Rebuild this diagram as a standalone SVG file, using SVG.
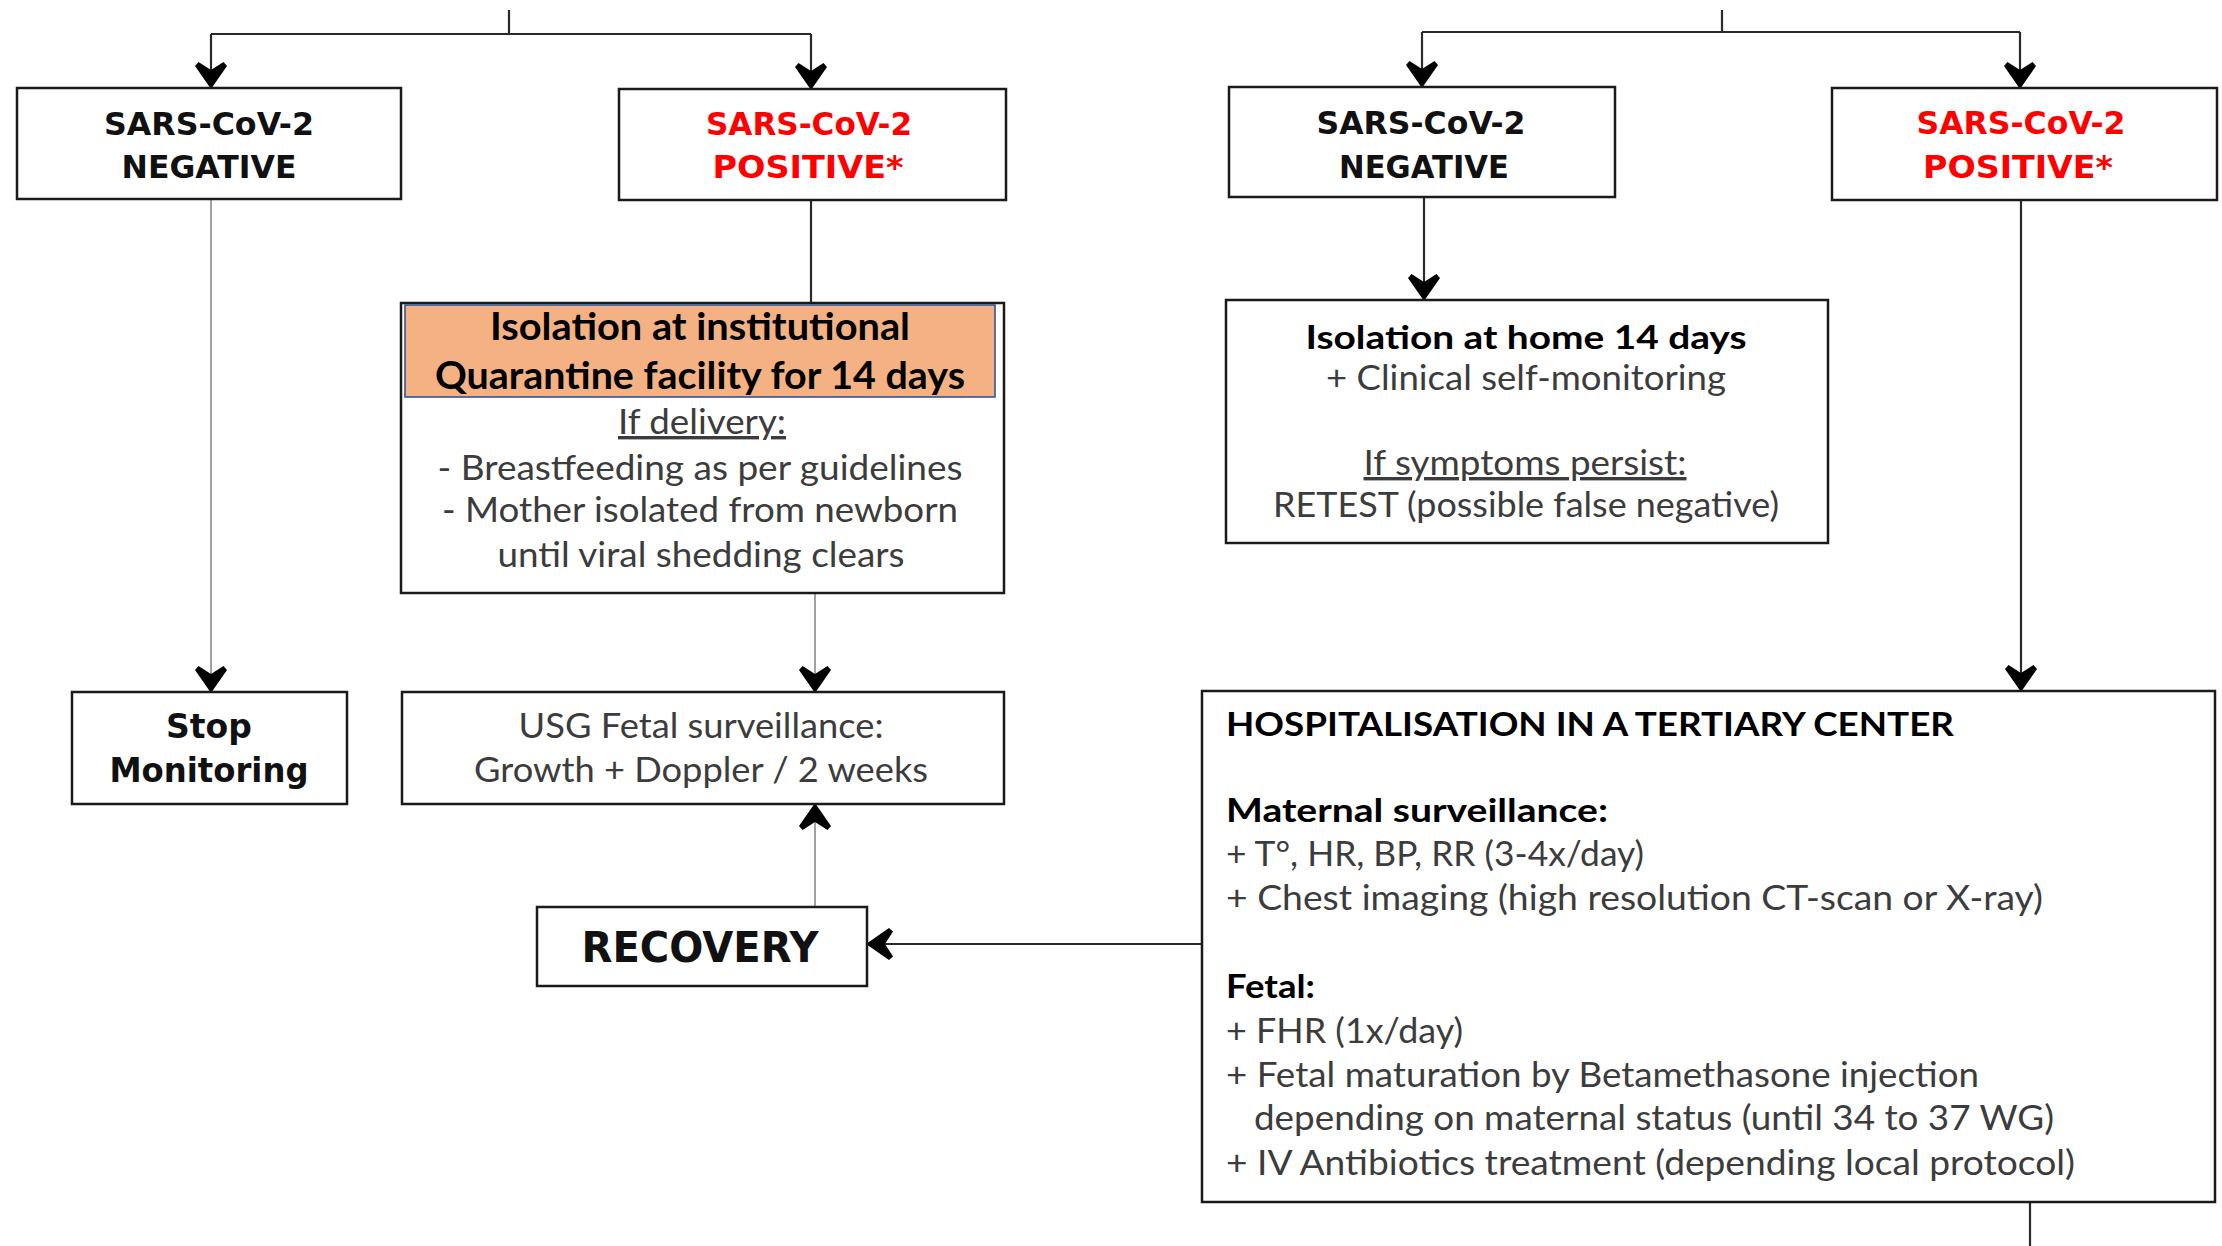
<svg xmlns="http://www.w3.org/2000/svg" width="2222" height="1246" viewBox="0 0 2222 1246">
<defs>
<style>
.box{fill:#fff;stroke:#1a1a1a;stroke-width:2.5}
.hdr{fill:#F4B183;stroke:#2F5597;stroke-width:1.6}
.ln{fill:none;stroke:#2a2a2a;stroke-width:2.2}
.lt{fill:none;stroke:#8a8a8a;stroke-width:1.6}
.tb{font-family:"DejaVu Sans",Verdana,sans-serif;font-weight:bold;fill:#111;text-anchor:middle}
.red{fill:#FF0000}
.cb{font-family:Lato,"Liberation Sans",sans-serif;font-weight:bold;fill:#000}
.cr{font-family:Lato,"Liberation Sans",sans-serif;fill:#3c3c3c}
.mid{text-anchor:middle}
.u{text-decoration:underline}
</style>
<marker id="arr" viewBox="-30 -20 32 40" refX="0" refY="0" markerWidth="32" markerHeight="40" markerUnits="userSpaceOnUse" orient="auto">
<path d="M1,0 L-22,-16 L-26,-12.5 L-18,0 L-26,12.5 L-22,16 Z" fill="#000"/>
</marker>
</defs>
<rect x="0" y="0" width="2222" height="1246" fill="#fff"/>

<g id="connectors">
<path class="ln" d="M509,10 V34 M211,34 H811"/>
<path class="ln" d="M211,34 V88" marker-end="url(#arr)"/>
<path class="ln" d="M811,34 V89" marker-end="url(#arr)"/>
<path class="lt" d="M211,199 V692" marker-end="url(#arr)"/>
<path class="ln" d="M811,200 V303"/>
<path class="lt" d="M815,593 V692" marker-end="url(#arr)"/>
<path class="lt" d="M815,907 V804" marker-end="url(#arr)"/>
<path class="ln" d="M1202,944 H867" marker-end="url(#arr)"/>
<path class="ln" d="M1722,10 V32 M1422,32 H2020"/>
<path class="ln" d="M1422,32 V87" marker-end="url(#arr)"/>
<path class="ln" d="M2020,32 V88" marker-end="url(#arr)"/>
<path class="ln" d="M1424,197 V300" marker-end="url(#arr)"/>
<path class="ln" d="M2021,200 V691" marker-end="url(#arr)"/>
<path class="ln" d="M2030,1202 V1246"/>
</g>

<g id="neg1">
<rect class="box" x="17" y="88" width="384" height="111"/>
<text class="tb" x="209" y="135" font-size="32" textLength="210" lengthAdjust="spacingAndGlyphs">SARS-CoV-2</text>
<text class="tb" x="209" y="178" font-size="32" textLength="175" lengthAdjust="spacingAndGlyphs">NEGATIVE</text>
</g>

<g id="pos1">
<rect class="box" x="619" y="89" width="387" height="111"/>
<text class="tb red" x="809" y="135" font-size="32" textLength="206" lengthAdjust="spacingAndGlyphs">SARS-CoV-2</text>
<text class="tb red" x="808" y="178" font-size="32" textLength="191" lengthAdjust="spacingAndGlyphs">POSITIVE*</text>
</g>

<g id="neg2">
<rect class="box" x="1229" y="87" width="386" height="110"/>
<text class="tb" x="1421" y="134" font-size="32" textLength="209" lengthAdjust="spacingAndGlyphs">SARS-CoV-2</text>
<text class="tb" x="1424" y="178" font-size="32" textLength="170" lengthAdjust="spacingAndGlyphs">NEGATIVE</text>
</g>

<g id="pos2">
<rect class="box" x="1832" y="88" width="385" height="112"/>
<text class="tb red" x="2021" y="134" font-size="32" textLength="209" lengthAdjust="spacingAndGlyphs">SARS-CoV-2</text>
<text class="tb red" x="2018" y="178" font-size="32" textLength="190" lengthAdjust="spacingAndGlyphs">POSITIVE*</text>
</g>

<g id="isolation-institutional">
<rect class="box" x="401" y="303" width="603" height="290"/>
<rect class="hdr" x="405" y="305" width="590" height="92"/>
<text class="cb mid" x="700" y="340" font-size="38" textLength="420" lengthAdjust="spacingAndGlyphs">Isolation at institutional</text>
<text class="cb mid" x="700" y="389" font-size="38" textLength="530" lengthAdjust="spacingAndGlyphs">Quarantine facility for 14 days</text>
<text class="cr mid u" x="702" y="434" font-size="34" textLength="168" lengthAdjust="spacingAndGlyphs">If delivery:</text>
<text class="cr mid" x="700" y="480" font-size="34" textLength="525" lengthAdjust="spacingAndGlyphs">- Breastfeeding  as per guidelines</text>
<text class="cr mid" x="700" y="522" font-size="34" textLength="516" lengthAdjust="spacingAndGlyphs">- Mother isolated  from newborn</text>
<text class="cr mid" x="701" y="567" font-size="34" textLength="407" lengthAdjust="spacingAndGlyphs">until viral shedding  clears</text>
</g>

<g id="isolation-home">
<rect class="box" x="1226" y="300" width="602" height="243"/>
<text class="cb mid" x="1526" y="349" font-size="33" textLength="441" lengthAdjust="spacingAndGlyphs">Isolation at home 14 days</text>
<text class="cr mid" x="1526" y="390" font-size="34" textLength="400" lengthAdjust="spacingAndGlyphs">+ Clinical self-monitoring</text>
<text class="cr mid u" x="1525" y="475" font-size="34" textLength="323" lengthAdjust="spacingAndGlyphs">If symptoms persist:</text>
<text class="cr mid" x="1526" y="517" font-size="34" textLength="506" lengthAdjust="spacingAndGlyphs">RETEST (possible false negative)</text>
</g>

<g id="stop-monitoring">
<rect class="box" x="72" y="692" width="275" height="112"/>
<text class="tb" x="209" y="738" font-size="33">Stop</text>
<text class="tb" x="209" y="782" font-size="33" textLength="199" lengthAdjust="spacingAndGlyphs">Monitoring</text>
</g>

<g id="usg">
<rect class="box" x="402" y="692" width="602" height="112"/>
<text class="cr mid" x="701" y="738" font-size="34" textLength="365" lengthAdjust="spacingAndGlyphs">USG Fetal surveillance:</text>
<text class="cr mid" x="701" y="782" font-size="34" textLength="454" lengthAdjust="spacingAndGlyphs">Growth + Doppler / 2 weeks</text>
</g>

<g id="recovery">
<rect class="box" x="537" y="907" width="330" height="79"/>
<text class="tb" x="700" y="962" font-size="43" textLength="237" lengthAdjust="spacingAndGlyphs">RECOVERY</text>
</g>

<g id="hospitalisation">
<rect class="box" x="1202" y="691" width="1013" height="511"/>
<text class="cb" x="1226" y="736" font-size="33" textLength="728" lengthAdjust="spacingAndGlyphs">HOSPITALISATION  IN A TERTIARY CENTER</text>
<text class="cb" x="1226" y="822" font-size="33" textLength="382" lengthAdjust="spacingAndGlyphs">Maternal surveillance:</text>
<text class="cr" x="1226" y="866" font-size="34" textLength="418" lengthAdjust="spacingAndGlyphs">+ T°, HR, BP, RR (3-4x/day)</text>
<text class="cr" x="1226" y="910" font-size="34" textLength="817" lengthAdjust="spacingAndGlyphs">+ Chest imaging (high resolution CT-scan or X-ray)</text>
<text class="cb" x="1226" y="998" font-size="33" textLength="89" lengthAdjust="spacingAndGlyphs">Fetal:</text>
<text class="cr" x="1226" y="1043" font-size="34" textLength="237" lengthAdjust="spacingAndGlyphs">+ FHR (1x/day)</text>
<text class="cr" x="1226" y="1087" font-size="34" textLength="753" lengthAdjust="spacingAndGlyphs">+ Fetal maturation by Betamethasone  injection</text>
<text class="cr" x="1254" y="1130" font-size="34" textLength="800" lengthAdjust="spacingAndGlyphs">depending  on maternal status (until 34 to 37 WG)</text>
<text class="cr" x="1226" y="1175" font-size="34" textLength="849" lengthAdjust="spacingAndGlyphs">+ IV Antibiotics treatment (depending  local protocol)</text>
</g>
</svg>
